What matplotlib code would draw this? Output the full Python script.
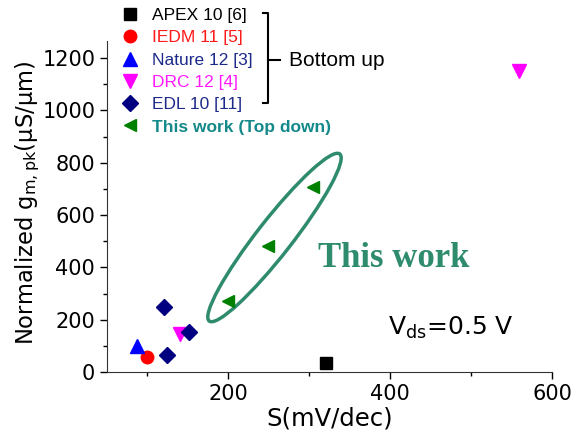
import numpy as np
import matplotlib.pyplot as plt
from matplotlib.patches import Ellipse
from matplotlib.lines import Line2D
import matplotlib.transforms as mtransforms

# data
apex_x = [321]
apex_y = [36]
iedm_x = [100]
iedm_y = [56]
nature_x = [87]
nature_y = [100]
drc_x = [140, 559]
drc_y = [144, 1150]
edl_x = [121, 124, 151]
edl_y = [250, 65, 152]
work_x = [200, 249, 304]
work_y = [270, 480, 708]

labels = ['APEX 10 [6]', 'IEDM 11 [5]', 'Nature 12 [3]', 'DRC 12 [4]',
          'EDL 10 [11]', 'This work (Top down)']
label_colors = ['black', '#ff1a1a', '#1c2a8a', '#ff1aff', '#1c2a8a', '#14898a']

W, H = 582, 442
fig = plt.figure(figsize=(W / 100, H / 100), dpi=100)
ax = fig.add_axes([107 / W, 1 - 372 / H, (552 - 107) / W, (372 - 41) / H])

h1, = ax.plot(apex_x, apex_y, 's', color='black', ms=8, ls='none')
h2, = ax.plot(iedm_x, iedm_y, 'o', color='red', ms=9, ls='none')
h3, = ax.plot(nature_x, nature_y, '^', color='blue', ms=10, ls='none')
h4, = ax.plot(drc_x, drc_y, 'v', color='magenta', ms=10, ls='none')
h5, = ax.plot(edl_x, edl_y, 'D', color='#000080', ms=8, ls='none')
h6, = ax.plot(work_x, work_y, '<', color='green', ms=9, ls='none')

ax.set_xlim(50, 600)
ax.set_ylim(0, 1265)
ax.set_xticks([200, 400, 600])
ax.set_xticks([100, 300, 500], minor=True)
ax.set_yticks(np.arange(0, 1201, 200))
ax.set_yticks(np.arange(100, 1201, 200), minor=True)
ax.tick_params(which='major', direction='out', length=5, width=1, labelsize=15)
ax.tick_params(which='minor', direction='out', length=3, width=1)
for s in ['top', 'right']:
    ax.spines[s].set_visible(False)
for s in ['left', 'bottom']:
    ax.spines[s].set_color('#333333')

ax.set_xlabel('S(mV/dec)', fontsize=17.5, labelpad=2)
ax.set_ylabel(r'Normalized g$_{\mathregular{m,pk}}$($\mathregular{\mu}$S/$\mathregular{\mu}$m)',
              fontsize=16.3)
ax.yaxis.set_label_coords(-0.146, 0.51)

# ellipse around this work
cx, cy = 257, 514
tr = fig.dpi_scale_trans + mtransforms.ScaledTranslation(cx, cy, ax.transData)
ax.add_patch(Ellipse((0, 0), 2.12, 0.35, angle=52, transform=tr,
                     fill=False, ec='#2e8b6e', lw=2.5, clip_on=False))
fig.text(318 / W, 1 - 267 / H, 'This work', family='Liberation Serif',
         weight='bold', fontsize=25, color='#2e8b6e', va='baseline')

fig.text(388 / W, 1 - 335 / H, r'V$_{\mathregular{ds}}$=0.5 V', fontsize=18,
         va='baseline')

# legend
leg = fig.legend([h1, h2, h3, h4, h5, h6], labels, loc='upper left',
                 bbox_to_anchor=(121 / W, 1 - 8 / H), frameon=False,
                 handlelength=1.0, handletextpad=0.78, labelspacing=0.41,
                 borderpad=0, borderaxespad=0,
                 prop={'family': 'Liberation Sans', 'size': 12.5})
for t, c in zip(leg.get_texts(), label_colors):
    t.set_color(c)
leg.get_texts()[-1].set_fontweight('bold')

# bracket for bottom up
bx = 268
pts = [(263, 13), (bx, 13), (bx, 103), (263, 103)]
fig.add_artist(Line2D([p[0] / W for p in pts], [1 - p[1] / H for p in pts],
                      color='black', lw=1.5))
fig.add_artist(Line2D([bx / W, 280 / W], [1 - 60 / H, 1 - 60 / H],
                      color='black', lw=1.5))
fig.text(289 / W, 1 - 60 / H, 'Bottom up', family='Liberation Sans',
         fontsize=15, va='center')

fig.savefig('out.png', dpi=100)
